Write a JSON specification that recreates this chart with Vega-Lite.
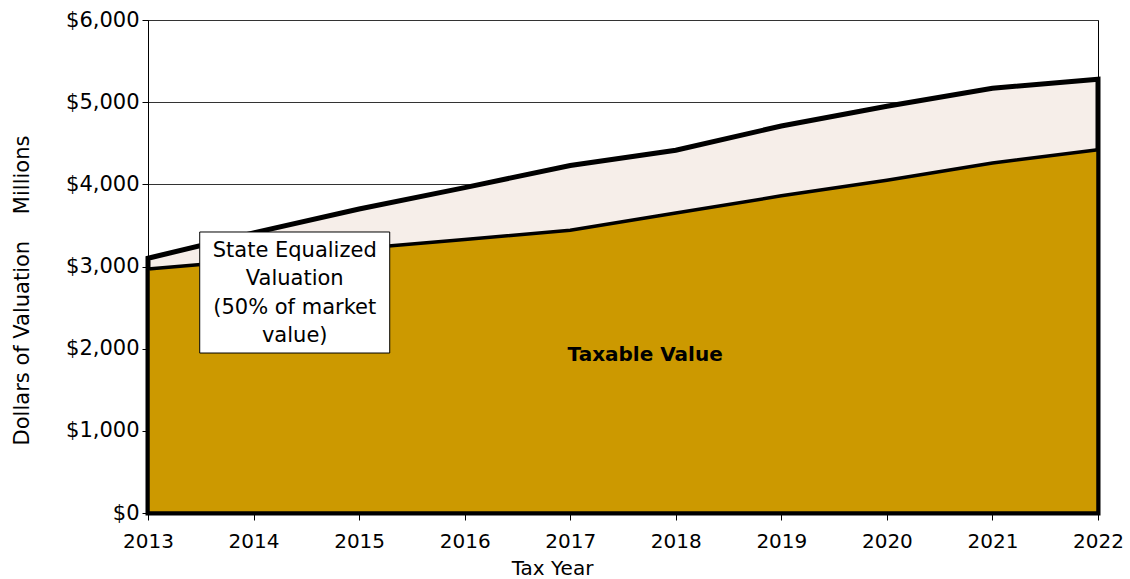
{
  "$schema": "https://vega.github.io/schema/vega-lite/v6.json",
  "width": 950,
  "height": 493,
  "autosize": {"type": "none"},
  "padding": {"left": 148, "top": 20, "right": 32, "bottom": 66},
  "config": {
    "font": "DejaVu Sans",
    "view": {"stroke": "#000000", "strokeWidth": 1},
    "background": "white"
  },
  "data": {
    "values": [
      {"year": 2013, "sev": 3100, "taxable": 2970},
      {"year": 2014, "sev": 3410, "taxable": 3080},
      {"year": 2015, "sev": 3700, "taxable": 3220},
      {"year": 2016, "sev": 3960, "taxable": 3330},
      {"year": 2017, "sev": 4230, "taxable": 3440},
      {"year": 2018, "sev": 4415, "taxable": 3650},
      {"year": 2019, "sev": 4710, "taxable": 3860},
      {"year": 2020, "sev": 4950, "taxable": 4050},
      {"year": 2021, "sev": 5170, "taxable": 4260},
      {"year": 2022, "sev": 5280, "taxable": 4420}
    ]
  },
  "layer": [
    {
      "mark": {"type": "area", "fill": "#f6eee9", "stroke": "#000000", "strokeWidth": 5, "strokeJoin": "miter"},
      "encoding": {
        "x": {
          "field": "year", "type": "quantitative",
          "scale": {"domain": [2013, 2022], "nice": false, "zero": false},
          "axis": {
            "values": [2013, 2014, 2015, 2016, 2017, 2018, 2019, 2020, 2021, 2022],
            "format": "d", "grid": false, "title": "Tax Year", "labelFlush": false,
            "labelFontSize": 20, "labelFont": "DejaVu Sans", "labelColor": "#000000", "labelPadding": 11,
            "titleFontSize": 20, "titleFont": "DejaVu Sans", "titleFontWeight": "normal", "titleColor": "#000000",
            "titleX": 404, "titleY": 45, "titleAnchor": "middle", "titleBaseline": "top",
            "tickColor": "#000000", "tickSize": 7, "domainColor": "#000000", "domainWidth": 1
          }
        },
        "y": {
          "field": "sev", "type": "quantitative",
          "scale": {"domain": [0, 6000], "nice": false},
          "axis": {
            "values": [0, 1000, 2000, 3000, 4000, 5000, 6000],
            "format": "$,.0f", "labelFlush": false,
            "grid": true, "gridColor": "#333333", "gridWidth": 1, "gridOpacity": 1,
            "title": "Dollars of Valuation\u00a0\u00a0\u00a0\u00a0Millions",
            "labelFontSize": 21, "labelFont": "DejaVu Sans", "labelColor": "#000000", "labelPadding": 3,
            "titleFontSize": 21, "titleFont": "DejaVu Sans", "titleFontWeight": "normal", "titleColor": "#000000",
            "titleX": -126, "titleY": 270, "titleAnchor": "middle", "titleBaseline": "middle",
            "tickColor": "#000000", "tickSize": 6, "domainColor": "#000000", "domainWidth": 1
          }
        }
      }
    },
    {
      "mark": {"type": "area", "fill": "#cc9900", "stroke": "#000000", "strokeWidth": 3.5, "strokeJoin": "miter"},
      "encoding": {
        "x": {"field": "year", "type": "quantitative"},
        "y": {"field": "taxable", "type": "quantitative"}
      }
    },
    {
      "data": {"values": [{"label": "sev"}]},
      "mark": {"type": "rect", "fill": "#ffffff", "stroke": "#000000", "strokeWidth": 1},
      "encoding": {
        "x": {"datum": 2013.49, "type": "quantitative"},
        "x2": {"datum": 2015.29},
        "y": {"datum": 3420, "type": "quantitative"},
        "y2": {"datum": 1947}
      }
    },
    {
      "data": {"values": [{"label": "sev"}]},
      "mark": {
        "type": "text",
        "text": ["State Equalized", "Valuation", "(50% of market", "value)"],
        "font": "DejaVu Sans", "fontWeight": "normal", "fill": "#000000",
        "fontSize": 21, "lineHeight": 28.5, "align": "center", "baseline": "alphabetic"
      },
      "encoding": {
        "x": {"datum": 2014.39, "type": "quantitative"},
        "y": {"datum": 3116, "type": "quantitative"}
      }
    },
    {
      "data": {"values": [{"label": "taxable"}]},
      "mark": {
        "type": "text", "text": "Taxable Value", "font": "DejaVu Sans", "fill": "#000000",
        "fontSize": 20, "fontWeight": "bold", "align": "center", "baseline": "middle"
      },
      "encoding": {
        "x": {"datum": 2017.71, "type": "quantitative"},
        "y": {"datum": 1923, "type": "quantitative"}
      }
    }
  ]
}
